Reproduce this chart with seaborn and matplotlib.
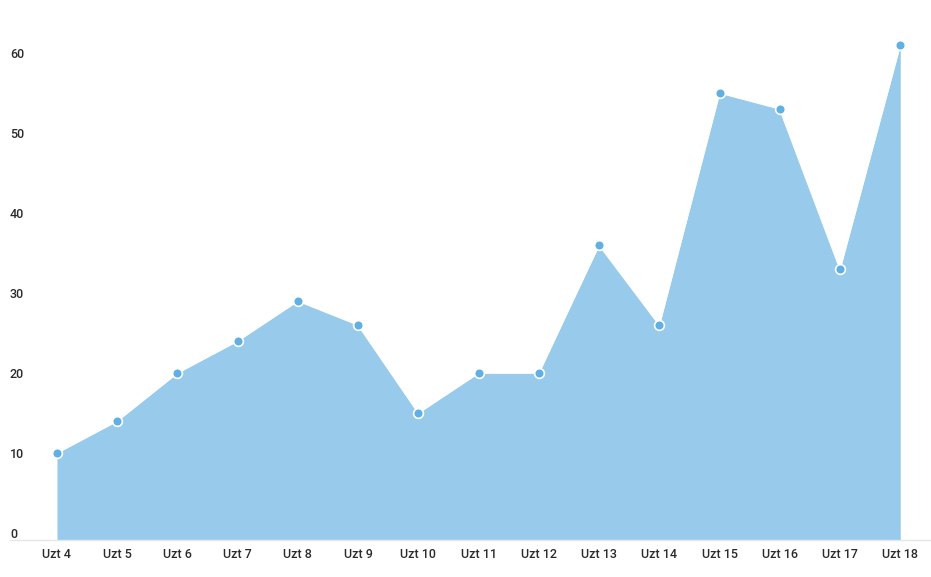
import pandas as pd
import matplotlib
matplotlib.use('Agg')
import matplotlib.pyplot as plt
import seaborn as sns

days = ['Uzt 4', 'Uzt 5', 'Uzt 6', 'Uzt 7', 'Uzt 8', 'Uzt 9', 'Uzt 10', 'Uzt 11',
        'Uzt 12', 'Uzt 13', 'Uzt 14', 'Uzt 15', 'Uzt 16', 'Uzt 17', 'Uzt 18']
values = [10, 14, 20, 24, 29, 26, 15, 20, 20, 36, 26, 55, 53, 33, 61]
y_ticks = [0, 10, 20, 30, 40, 50, 60]

FILL = '#98cbeb'
DOT = '#5fb0e4'


def draw_chart():
    sns.set_style('white')
    plt.rcParams['font.family'] = ['Roboto', 'DejaVu Sans']

    df = pd.DataFrame({'day': days, 'value': values})
    df['pos'] = range(len(df))

    fig = plt.figure(figsize=(9.31, 5.77), dpi=100)
    ax = fig.add_axes([10 / 931, 37 / 577, 921 / 931, 540 / 577])

    ax.set_xlim(-0.78, 14.51)
    ax.set_ylim(-0.875, 66.6)
    bottom = ax.get_ylim()[0]

    ax.fill_between(df['pos'], df['value'], bottom, color=FILL, linewidth=0, zorder=1)
    sns.lineplot(x='pos', y='value', data=df, ax=ax, color='white', linewidth=1.2,
                 zorder=2, marker='o', markersize=7, markerfacecolor=DOT,
                 markeredgecolor='white', markeredgewidth=1.2)

    ax.set_xticks(df['pos'])
    ax.set_xticklabels(days)
    ax.set_yticks(y_ticks)
    ax.set_yticklabels([str(t) for t in y_ticks])
    ax.tick_params(axis='both', length=0, labelsize=9, labelcolor='#2b2b2b')
    ax.tick_params(axis='x', pad=6)
    ax.tick_params(axis='y', pad=0)
    for lbl in ax.get_yticklabels() + ax.get_xticklabels():
        lbl.set_fontweight('medium')
    for lbl in ax.get_yticklabels():
        lbl.set_horizontalalignment('left')

    for side in ['top', 'right', 'left']:
        ax.spines[side].set_visible(False)
    ax.spines['bottom'].set_color('#e6e6e6')
    ax.spines['bottom'].set_linewidth(1)
    ax.set_xlabel('')
    ax.set_ylabel('')

    fig.savefig('out.png', dpi=100)


if __name__ == "__main__":
    draw_chart()
